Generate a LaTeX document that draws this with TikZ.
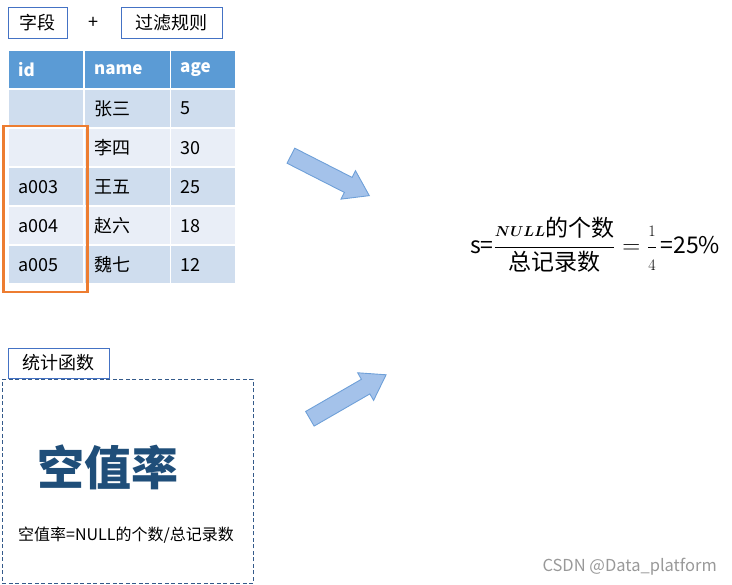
\documentclass[tikz,border=0pt]{standalone}
\usepackage{amsmath,amssymb}
\usepackage{fontspec}
\setmainfont{Noto Sans CJK SC}
\newfontfamily\lmfont{Latin Modern Roman}
\usetikzlibrary{positioning,shapes.arrows}
\definecolor{tagblue}{RGB}{68,114,196}
\definecolor{headblue}{RGB}{91,155,213}
\definecolor{rowdark}{RGB}{207,221,238}
\definecolor{rowlight}{RGB}{233,238,247}
\definecolor{markorange}{RGB}{237,125,49}
\definecolor{arrowfill}{RGB}{164,194,234}
\definecolor{arrowline}{RGB}{111,160,216}
\definecolor{titleblue}{RGB}{31,78,121}
\definecolor{dashblue}{RGB}{52,90,138}
\newcommand{\pxfont}[1]{\fontsize{#1}{#1}\selectfont}

\begin{document}
\begin{tikzpicture}[x=1pt,y=-1pt,node distance=6 and 12,
    tagbox/.style={draw=tagblue,line width=0.9pt,minimum height=31,inner sep=0,font=\pxfont{18}},
    headcell/.style={fill=headblue,text=white,font=\pxfont{17}\bfseries,minimum height=37,inner xsep=9,inner ysep=0,align=left,anchor=north west},
    datacell/.style={minimum height=37,inner xsep=9,inner ysep=0,align=left,anchor=north west,font=\pxfont{18}},
    selbox/.style={draw=markorange,line width=2.5pt,inner sep=0,anchor=north west},
    blockarrow/.style={single arrow,draw=arrowline,fill=arrowfill,line width=0.9pt,inner xsep=0,inner ysep=8,
      minimum height=88,single arrow head extend=7.5,single arrow tip angle=68,anchor=tail}]
  \useasboundingbox (0,0) rectangle (732,585);
  % fields and rules
  \node[tagbox,minimum width=59] (field) at (37.5,22.5) {字段};
  \node[right=21 of field,inner sep=0,font=\pxfont{18}] (plus) {+};
  \node[tagbox,minimum width=101,right=22 of plus] (rule) {过滤规则};
  % table
  \foreach \c/\x/\tw/\t in {id/9/56/id, name/85/67/name, age/171/46/age}
    \node[headcell,text width=\tw] (h\c) at (\x,51) {\t};
  \foreach \i/\f/\a/\b/\n in {1/rowdark//张三/5, 2/rowlight//李四/30, 3/rowdark/a003/王五/25,
      4/rowlight/a004/赵六/18, 5/rowdark/a005/魏七/12} {
    \node[datacell,fill=\f,text width=56] (id\i) at (9,{90+(\i-1)*39}) {\a};
    \node[datacell,fill=\f,text width=67] (name\i) at (85,{90+(\i-1)*39}) {\b};
    \node[datacell,fill=\f,text width=46] (age\i) at (171,{90+(\i-1)*39}) {\n};
  }
  \node[selbox,minimum width=84,minimum height=166] (sel) at (2,125) {};
  % arrows
  \node[blockarrow,rotate=-27] (arrowtop) at (290.5,155.5) {};
  \node[blockarrow,rotate=30] (arrowbottom) at (309.5,419) {};
  % result
  \node[anchor=west,inner sep=0,font=\pxfont{23}] (ratio) at (470,245)
    {s=$\dfrac{\mbox{\pxfont{15}$\boldsymbol{NULL}$}\mbox{的个数}}{\mbox{总记录数}}
      =\dfrac{\mbox{\lmfont\pxfont{16}1}}{\mbox{\lmfont\pxfont{16}4}}$\,=25\%};
  % statistic function
  \node[tagbox,minimum width=101,minimum height=30] (func) at (58.5,363) {统计函数};
  \node[draw=dashblue,line width=0.8pt,dash pattern=on 4pt off 2.5pt,anchor=north west,
    minimum width=251,minimum height=204,inner sep=0] (funcbox) at (2,379) {};
  \node[text=titleblue,font=\pxfont{47}\bfseries,inner sep=0] (nullrate) at (108,467) {空值率};
  \node[anchor=west,inner sep=0,font=\pxfont{16}] (define) at (18,535) {空值率=NULL的个数/总记录数};
  \node[anchor=east,inner sep=0,text=black!40,font=\pxfont{16.5}] (mark) at (717,567) {CSDN @Data\_platform};
\end{tikzpicture}
\end{document}
